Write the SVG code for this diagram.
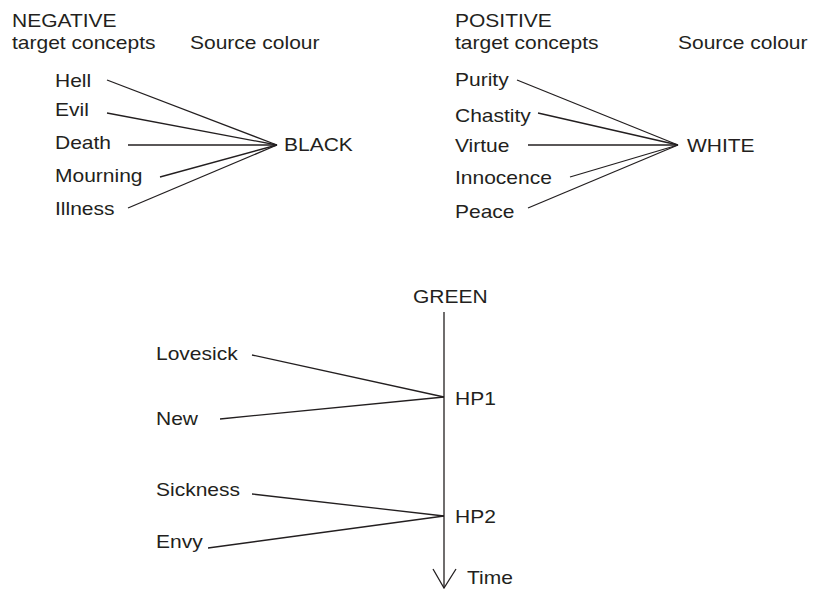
<svg xmlns="http://www.w3.org/2000/svg" width="813" height="589" viewBox="0 0 813 589">
<style>
text{font-family:"Liberation Sans",Arial,sans-serif;font-size:17.5px;fill:#231f20}
.c line,.c polyline{stroke:#231f20;stroke-width:1.3;fill:none}
</style>
<rect width="813" height="589" fill="#fff"/>
<g id="headers">
<text transform="translate(12,27) scale(1.2,1)">NEGATIVE</text>
<text transform="translate(12,49) scale(1.2,1)">target concepts</text>
<text transform="translate(190,49) scale(1.2,1)">Source colour</text>
<text transform="translate(455,27) scale(1.2,1)">POSITIVE</text>
<text transform="translate(455,49) scale(1.2,1)">target concepts</text>
<text transform="translate(678,49) scale(1.2,1)">Source colour</text>
</g>
<g id="hell"><text transform="translate(55,87) scale(1.2,1)">Hell</text></g>
<g id="evil"><text transform="translate(55,116) scale(1.2,1)">Evil</text></g>
<g id="death"><text transform="translate(55,149) scale(1.2,1)">Death</text></g>
<g id="mourning"><text transform="translate(55,182) scale(1.2,1)">Mourning</text></g>
<g id="illness"><text transform="translate(55,215) scale(1.2,1)">Illness</text></g>
<g id="black"><text transform="translate(284,151) scale(1.2,1)">BLACK</text></g>
<g id="purity"><text transform="translate(455,86) scale(1.2,1)">Purity</text></g>
<g id="chastity"><text transform="translate(455,122) scale(1.2,1)">Chastity</text></g>
<g id="virtue"><text transform="translate(455,152) scale(1.2,1)">Virtue</text></g>
<g id="innocence"><text transform="translate(455,184) scale(1.2,1)">Innocence</text></g>
<g id="peace"><text transform="translate(455,218) scale(1.2,1)">Peace</text></g>
<g id="white"><text transform="translate(687,152) scale(1.2,1)">WHITE</text></g>
<g id="green"><text transform="translate(413,303) scale(1.2,1)">GREEN</text></g>
<g id="lovesick"><text transform="translate(156,360) scale(1.2,1)">Lovesick</text></g>
<g id="new"><text transform="translate(156,425) scale(1.2,1)">New</text></g>
<g id="hp1"><text transform="translate(455,405) scale(1.2,1)">HP1</text></g>
<g id="sickness"><text transform="translate(156,496) scale(1.2,1)">Sickness</text></g>
<g id="envy"><text transform="translate(156,548) scale(1.2,1)">Envy</text></g>
<g id="hp2"><text transform="translate(455,523) scale(1.2,1)">HP2</text></g>
<g id="time"><text transform="translate(467,584) scale(1.2,1)">Time</text></g>
<g id="connectors" class="c">
<line x1="107" y1="80" x2="277" y2="145"/>
<line x1="107" y1="113" x2="277" y2="145"/>
<line x1="128" y1="145" x2="277" y2="145"/>
<line x1="160" y1="177" x2="277" y2="145"/>
<line x1="128" y1="208" x2="277" y2="145"/>
<line x1="517" y1="80" x2="678" y2="145"/>
<line x1="538" y1="113" x2="678" y2="145"/>
<line x1="528" y1="145" x2="678" y2="145"/>
<line x1="570" y1="177" x2="678" y2="145"/>
<line x1="528" y1="208" x2="678" y2="145"/>
<line x1="444" y1="312" x2="444" y2="588"/>
<polyline points="433,569 444,588 456,569"/>
<line x1="252" y1="355" x2="444" y2="397"/>
<line x1="220" y1="419" x2="444" y2="397"/>
<line x1="252" y1="494" x2="444" y2="516"/>
<line x1="208" y1="548" x2="444" y2="516"/>
</g>
</svg>
